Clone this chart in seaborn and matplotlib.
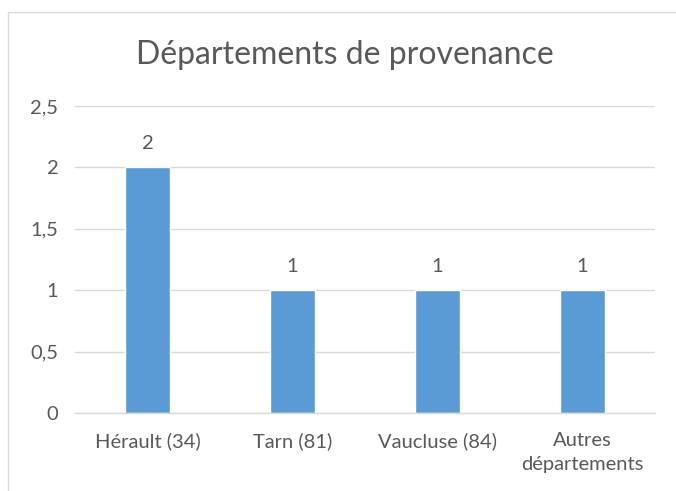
import seaborn as sns
import matplotlib.pyplot as plt
import matplotlib.ticker as mticker
import matplotlib.patches as mpatches
import pandas as pd

# Data
departements = ['Hérault (34)', 'Tarn (81)', 'Vaucluse (84)', 'Autres\ndépartements']
nombre = [2, 1, 1, 1]

df = pd.DataFrame({'dep': departements, 'n': nombre})

sns.set_theme(style='white')
plt.rcParams['font.family'] = ['Lato', 'DejaVu Sans']

txt = '#595959'
grid = '#D9D9D9'
bleu = '#5B9BD5'

fig = plt.figure(figsize=(6.76, 4.91), dpi=100)
ax = fig.add_axes([0.111, 0.1589, 0.858, 0.6253])

sns.barplot(data=df, x='dep', y='n', color=bleu, width=0.31, saturation=1, ax=ax)

ax.set_ylim(0, 2.5)
ax.set_xlim(-0.5, len(departements) - 0.5)
ax.set_yticks([0, 0.5, 1, 1.5, 2, 2.5])
ax.yaxis.set_major_formatter(mticker.FuncFormatter(lambda v, p: ('%g' % v).replace('.', ',')))
ax.yaxis.grid(True, color=grid, linewidth=1)
ax.set_axisbelow(True)
for s in ['top', 'right', 'left']:
    ax.spines[s].set_visible(False)
ax.spines['bottom'].set_color(grid)
ax.spines['bottom'].set_linewidth(1)
ax.tick_params(axis='both', length=0, colors=txt, labelsize=14.5)
ax.tick_params(axis='y', pad=12)
ax.tick_params(axis='x', pad=14)
for lbl in ax.get_xticklabels():
    lbl.set_linespacing(1.45)
ax.set_xlabel('')
ax.set_ylabel('')

for c in ax.containers:
    ax.bar_label(c, labels=[str(v) for v in nombre], padding=11, color=txt, fontsize=14.5)

fig.text(0.51, 0.887, 'Départements de provenance', ha='center', va='center',
         fontsize=23, color=txt)

# chart frame
fig.patches.append(mpatches.Rectangle((8 / 676, -0.2), 1.2, 1.2 - 12 / 491,
                                      transform=fig.transFigure, fill=False,
                                      edgecolor=grid, linewidth=1))

fig.savefig('out.png', dpi=100)
